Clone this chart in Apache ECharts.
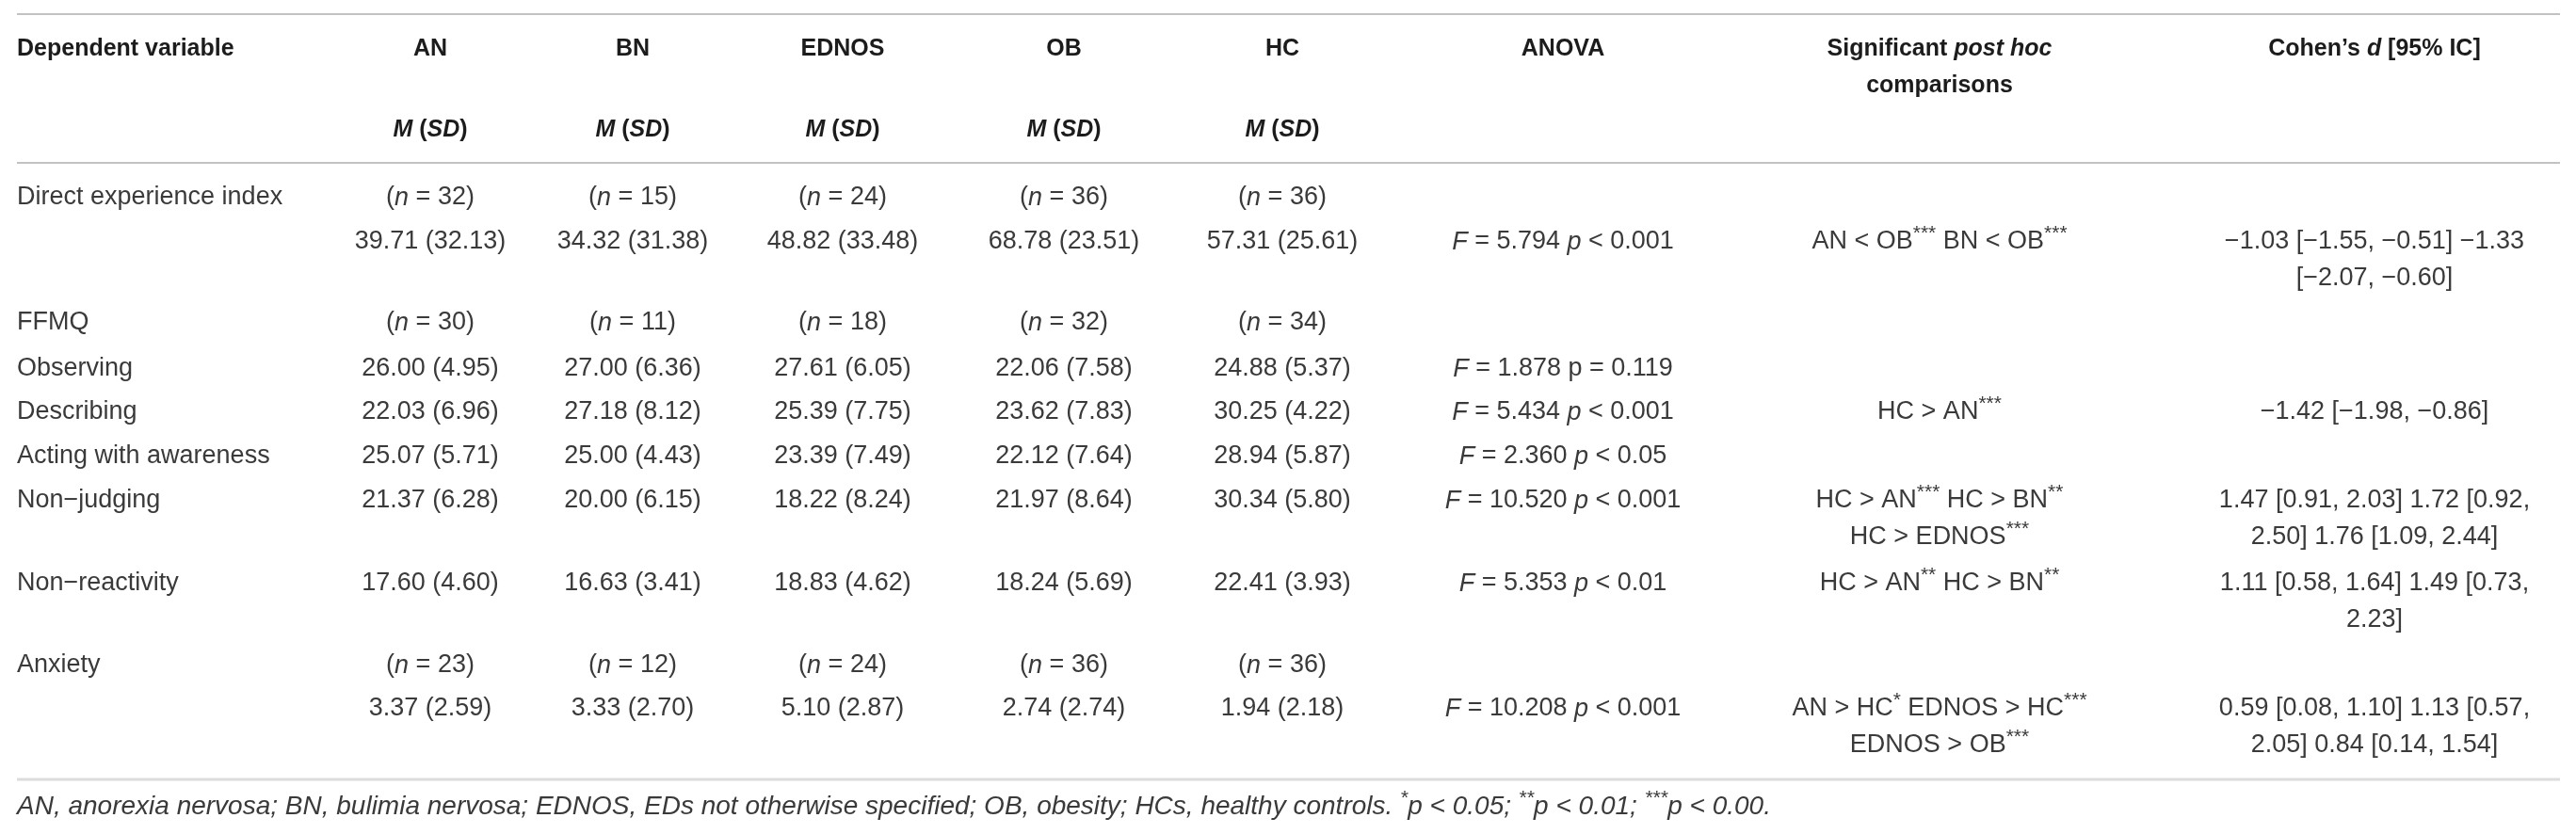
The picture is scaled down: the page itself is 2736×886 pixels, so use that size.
<!DOCTYPE html>
<html>
<head>
<meta charset="utf-8">
<script src="https://cdn.jsdelivr.net/npm/echarts@6/dist/echarts.min.js"></script>
<style>
html, body { margin: 0; background: #fff; }
#chart { width: 2736px; height: 886px; }
</style>
</head>
<body>
<div id="chart"></div>
<script>
// table data
var groups = ['AN', 'BN', 'EDNOS', 'OB', 'HC'];
var variables = ['Direct experience index', 'Observing', 'Describing', 'Acting with awareness', 'Non\u2212judging', 'Non\u2212reactivity', 'Anxiety'];

var nDirect = [32, 15, 24, 36, 36];
var nFfmq = [30, 11, 18, 32, 34];
var nAnxiety = [23, 12, 24, 36, 36];

var meanAN = [39.71, 26.00, 22.03, 25.07, 21.37, 17.60, 3.37];
var sdAN = [32.13, 4.95, 6.96, 5.71, 6.28, 4.60, 2.59];
var meanBN = [34.32, 27.00, 27.18, 25.00, 20.00, 16.63, 3.33];
var sdBN = [31.38, 6.36, 8.12, 4.43, 6.15, 3.41, 2.70];
var meanEDNOS = [48.82, 27.61, 25.39, 23.39, 18.22, 18.83, 5.10];
var sdEDNOS = [33.48, 6.05, 7.75, 7.49, 8.24, 4.62, 2.87];
var meanOB = [68.78, 22.06, 23.62, 22.12, 21.97, 18.24, 2.74];
var sdOB = [23.51, 7.58, 7.83, 7.64, 8.64, 5.69, 2.74];
var meanHC = [57.31, 24.88, 30.25, 28.94, 30.34, 22.41, 1.94];
var sdHC = [25.61, 5.37, 4.22, 5.87, 5.80, 3.93, 2.18];

var anovaF = [5.794, 1.878, 5.434, 2.360, 10.520, 5.353, 10.208];
var anovaP = ['< 0.001', '= 0.119', '< 0.001', '< 0.05', '< 0.001', '< 0.01', '< 0.001'];

var postHoc = [
    'AN < OB*** BN < OB***',
    '',
    'HC > AN***',
    '',
    'HC > AN*** HC > BN**\nHC > EDNOS***',
    'HC > AN** HC > BN**',
    'AN > HC* EDNOS > HC***\nEDNOS > OB***'
];
var cohenD = [
    '\u22121.03 [\u22121.55, \u22120.51] \u22121.33\n[\u22122.07, \u22120.60]',
    '',
    '\u22121.42 [\u22121.98, \u22120.86]',
    '',
    '1.47 [0.91, 2.03] 1.72 [0.92,\n2.50] 1.76 [1.09, 2.44]',
    '1.11 [0.58, 1.64] 1.49 [0.73,\n2.23]',
    '0.59 [0.08, 1.10] 1.13 [0.57,\n2.05] 0.84 [0.14, 1.54]'
];

// layout (axis units = page pixels)
var colX = [18, 457, 672, 895, 1130, 1362, 1660, 2060, 2522];
var headY = 52, subHeadY = 138;
var labelY = [210, 392, 438, 485, 532, 620, 707];
var valueY = [257, 392, 438, 485, 532, 620, 753];
var nRowY = { direct: 210, ffmq: 343, anxiety: 707 };
var footY = 857;
var rules = [[15, 2, '#c2c2c2'], [173, 2, '#c2c2c2'], [828, 3, '#dcdcdc']];
var ruleLeft = 18, ruleRight = 2719;

var FONT = "'Liberation Sans', Arial, Helvetica, sans-serif";
var LH = 39;
var BODY = '#3a3a3a', HEAD = '#1c1c1c';

var cells = [];
function cell(col, y, text) {
    cells.push([colX[col], y, text, col === 0 ? 'left' : 'center']);
}
function stars(s) {
    return s.replace(/(\*+)/g, '{s|$1}');
}

// header
cell(0, headY, '{b|Dependent variable}');
groups.forEach(function (g, i) {
    cell(i + 1, headY, '{b|' + g + '}');
    cell(i + 1, subHeadY, '{bi|M}{b| (}{bi|SD}{b|)}');
});
cell(6, headY, '{b|ANOVA}');
cell(7, headY, '{b|Significant }{bi|post hoc}\n{b|comparisons}');
cell(8, headY, '{b|Cohen\u2019s }{bi|d}{b| [95% IC]}');

// sample sizes
function nRow(y, ns) {
    ns.forEach(function (n, i) { cell(i + 1, y, '({i|n} = ' + n + ')'); });
}
nRow(nRowY.direct, nDirect);
cell(0, nRowY.ffmq, 'FFMQ');
nRow(nRowY.ffmq, nFfmq);
nRow(nRowY.anxiety, nAnxiety);

// body
var means = [meanAN, meanBN, meanEDNOS, meanOB, meanHC];
var sds = [sdAN, sdBN, sdEDNOS, sdOB, sdHC];
variables.forEach(function (v, r) {
    cell(0, labelY[r], v);
    for (var g = 0; g < groups.length; g++) {
        cell(g + 1, valueY[r], means[g][r].toFixed(2) + ' (' + sds[g][r].toFixed(2) + ')');
    }
    var p = anovaP[r].charAt(0) === '=' ? 'p' : '{i|p}';
    cell(6, valueY[r], '{i|F} = ' + anovaF[r].toFixed(3) + ' ' + p + ' ' + anovaP[r]);
    if (postHoc[r]) cell(7, valueY[r], stars(postHoc[r]));
    if (cohenD[r]) cell(8, valueY[r], cohenD[r]);
});

// footnote
cell(0, footY, '{f|AN, anorexia nervosa; BN, bulimia nervosa; EDNOS, EDs not otherwise specified; OB, obesity; HCs, healthy controls. }{si|*}{f|p < 0.05; }{si|**}{f|p < 0.01; }{si|***}{f|p < 0.00.}');

var baseText = { fontFamily: FONT, fontSize: 27, lineHeight: LH, fill: BODY };
var rich = {
    b: { fontFamily: FONT, fontSize: 25, lineHeight: LH, fontWeight: 'bold', fill: HEAD },
    bi: { fontFamily: FONT, fontSize: 25, lineHeight: LH, fontWeight: 'bold', fontStyle: 'italic', fill: HEAD },
    i: { fontFamily: FONT, fontSize: 27, lineHeight: LH, fontStyle: 'italic', fill: BODY },
    f: { fontFamily: FONT, fontSize: 28, lineHeight: LH, fontStyle: 'italic', fill: BODY },
    s: { fontFamily: FONT, fontSize: 21, lineHeight: 34, verticalAlign: 'top', fill: BODY },
    si: { fontFamily: FONT, fontSize: 21, lineHeight: 34, fontStyle: 'italic', verticalAlign: 'top', fill: BODY }
};

var myChart = echarts.init(document.getElementById('chart'));
var option = {
    animation: false,
    backgroundColor: '#ffffff',
    grid: { left: 0, right: 0, top: 0, bottom: 0 },
    xAxis: { type: 'value', min: 0, max: 2736, show: false },
    yAxis: { type: 'value', min: 0, max: 886, inverse: true, show: false },
    series: [{
        type: 'custom',
        silent: true,
        data: rules,
        renderItem: function (params, api) {
            var y = api.value(0);
            var a = api.coord([ruleLeft, y]);
            var b = api.coord([ruleRight, y]);
            return {
                type: 'line',
                shape: { x1: a[0], y1: a[1], x2: b[0], y2: b[1] },
                style: { stroke: rules[params.dataIndex][2], lineWidth: api.value(1) }
            };
        }
    }, {
        type: 'custom',
        silent: true,
        data: cells,
        renderItem: function (params, api) {
            var c = cells[params.dataIndex];
            var pt = api.coord([c[0], c[1]]);
            return {
                type: 'text',
                x: pt[0],
                y: pt[1] - LH / 2,
                style: Object.assign({}, baseText, {
                    text: c[2],
                    align: c[3],
                    verticalAlign: 'top',
                    rich: rich
                })
            };
        }
    }]
};

myChart.setOption(option);
</script>
</body>
</html>
